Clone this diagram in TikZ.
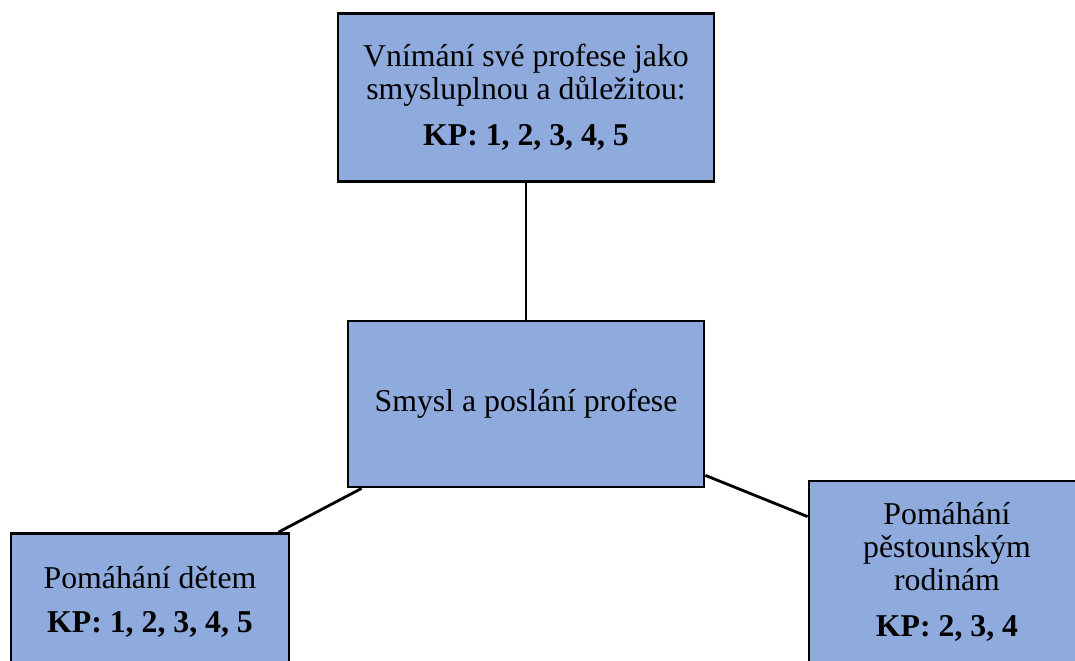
\documentclass[tikz,border=0pt]{standalone}
\usepackage{fontspec}
\setmainfont{Liberation Serif}
\usepackage{tikz}
\usepackage{xcolor}
\definecolor{boxblue}{HTML}{8FAADC}

\begin{document}
\begin{tikzpicture}[kpbox/.style={draw=black, fill=boxblue, line width=2pt, align=center, inner sep=0pt, font=\fontsize{22.6}{23.5}\selectfont}]
	\useasboundingbox (0,0) rectangle (26.875,16.5);
	\clip (0,0) rectangle (26.875,16.5);
	\node[kpbox, minimum width=9.4cm, minimum height=4.2cm] (top) at (13.15,14.06) {Vnímání své profese jako\\smysluplnou a důležitou:\\[9pt]\textbf{KP: 1, 2, 3, 4, 5}};
	\node[kpbox, minimum width=8.9cm, minimum height=4.15cm] (ctr) at (13.15,6.4) {Smysl a poslání profese};
	\node[kpbox, minimum width=6.95cm, minimum height=3.4cm] (left) at (3.75,1.46) {Pomáhání dětem\\[8pt]\textbf{KP: 1, 2, 3, 4, 5}};
	\node[kpbox, minimum width=6.9cm, minimum height=4.55cm] (right) at (23.675,2.2) {Pomáhání\\pěstounským\\rodinám\\[9pt]\textbf{KP: 2, 3, 4}};
	\draw[line width=2pt] (top.south) -- (ctr.north);
	\draw[line width=2pt] ([xshift=0.375cm]ctr.south west) -- ([xshift=-0.3cm]left.north east);
	\draw[line width=2pt] ([yshift=0.325cm]ctr.south east) -- ([yshift=-0.925cm]right.north west);
\end{tikzpicture}
\end{document}
